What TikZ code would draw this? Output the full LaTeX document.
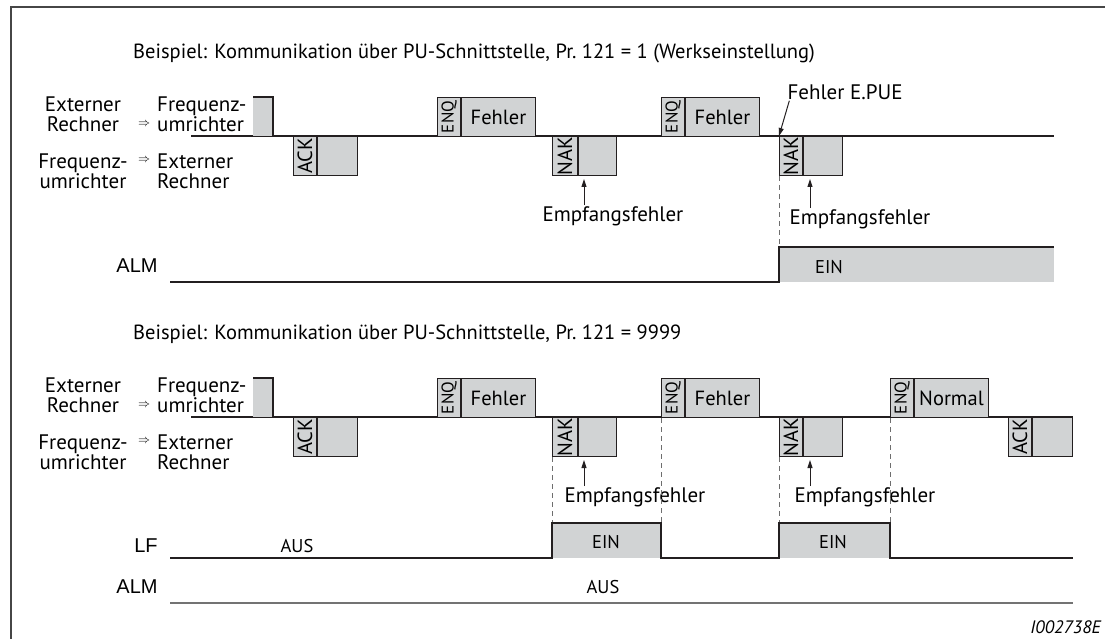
\documentclass[tikz,border=0pt]{standalone}
\usepackage{fontspec}
\setmainfont{PT Sans}
\newfontfamily\arialfont{Liberation Sans}
\usetikzlibrary{arrows.meta, positioning}
\definecolor{lnDark}{RGB}{35,31,32}
\definecolor{blkFill}{RGB}{209,211,212}
\definecolor{frameGray}{RGB}{70,70,70}
\definecolor{dashGray}{RGB}{110,110,110}
\tikzset{
  sig/.style={draw=lnDark, line width=1.1pt},
  blk/.style={rectangle, draw=lnDark, fill=blkFill, line width=1pt,
    inner sep=0pt, anchor=north west, minimum height=39pt,
    font=\fontsize{20.5}{22}\selectfont},
  tagbox/.style={blk, minimum width=23pt, font=\fontsize{20.5}{22}\selectfont},
  enqbox/.style={tagbox, font=\fontsize{17}{20}\selectfont},
  txt/.style={font=\fontsize{21}{20}\selectfont, inner sep=1pt},
  lvl/.style={font=\fontsize{18.5}{22}\selectfont, inner sep=1pt},
  sglbl/.style={font=\arialfont\fontsize{20}{22}\selectfont, inner sep=0pt},
  ttl/.style={font=\fontsize{20.5}{22}\selectfont, anchor=west, inner sep=0pt},
  dblarr/.style={font=\fontsize{11.5}{12}\selectfont, inner sep=0pt},
  arr/.style={-{Triangle[length=8pt,width=5pt]}, line width=1pt, draw=lnDark},
  dsh/.style={dash pattern=on 5pt off 4pt, draw=dashGray, line width=1pt},
}
\begin{document}
\begin{tikzpicture}[x=1pt, y=-1pt]
\useasboundingbox (0,0) rectangle (1105,639);
\draw[frameGray, line width=1.6pt] (1105,7) -- (11,7) -- (11,639);

% ---- Pr. 121 = 1
\node[ttl] (ttlA) at (133,53)
  {Beispiel: Kommunikation über PU-Schnittstelle, Pr.~121 = 1 (Werkseinstellung)};

\node[txt, align=center] (extA) at (83,114) {Externer\\Rechner};
\node[txt, align=left, anchor=west] (fuA) at (156,114) {Frequenz-\\umrichter};
\node[dblarr] (toA) at (144,124) {$\Rightarrow$};
\node[txt, align=center] (fuB) at (83,171) {Frequenz-\\umrichter};
\node[txt, align=left, anchor=west] (extB) at (156,171) {Externer\\Rechner};
\node[dblarr] (toB) at (144,160) {$\Rightarrow$};

\draw[sig] (191,136) -- (1054,136);
\fill[blkFill] (253,97) rectangle (273,136);
\draw[sig] (253,97) -- (273,97) -- (273,136);

\node[tagbox] (ackA) at (293,136) {\rotatebox{90}{ACK}};
\node[blk, minimum width=40pt] (ackAd) at (ackA.north east) {};
\node[enqbox] (enqA) at (437,97) {\rotatebox{90}{ENQ}};
\node[blk, minimum width=74pt] (fehA) at (enqA.north east) {Fehler};
\node[tagbox, minimum width=25pt] (nakA) at (552,136) {\rotatebox{90}{NAK}};
\node[blk, minimum width=38pt] (nakAd) at (nakA.north east) {};
\node[enqbox] (enqB) at (661,97) {\rotatebox{90}{ENQ}};
\node[blk, minimum width=74pt] (fehB) at (enqB.north east) {Fehler};
\node[tagbox] (nakB) at (779,136) {\rotatebox{90}{NAK}};
\node[blk, minimum width=39pt] (nakBd) at (nakB.north east) {};

\node[txt] (epue) at (845,92) {Fehler E.PUE};
\draw[arr] ([xshift=3pt]epue.south west) -- (nakB.north west);

\node[txt] (efA) at (613,216) {Empfangsfehler};
\coordinate (tipA) at ([xshift=6pt]nakAd.south west);
\draw[arr, shorten >=3pt] (tipA |- efA.north) -- (tipA);
\node[txt] (efB) at (860,219) {Empfangsfehler};
\coordinate (tipB) at ([xshift=7pt]nakBd.south west);
\draw[arr, shorten >=3pt] (tipB |- efB.north) -- (tipB);

\coordinate (almHi) at (779,247);
\draw[dsh] (nakB.south west) -- (almHi);
\fill[blkFill] (almHi) rectangle (1054,282);
\draw[sig] (170,282) -- (779,282) -- (almHi) -- (1054,247);
\node[sglbl] (almA) at (137,266) {ALM};
\node[lvl] (einA) at (829,267) {EIN};

% ---- Pr. 121 = 9999
\node[ttl] (ttlB) at (133,334)
  {Beispiel: Kommunikation über PU-Schnittstelle, Pr.~121 = 9999};

\node[txt, align=center] (extC) at (83,395) {Externer\\Rechner};
\node[txt, align=left, anchor=west] (fuC) at (156,395) {Frequenz-\\umrichter};
\node[dblarr] (toC) at (144,405) {$\Rightarrow$};
\node[txt, align=center] (fuD) at (83,452) {Frequenz-\\umrichter};
\node[txt, align=left, anchor=west] (extD) at (156,452) {Externer\\Rechner};
\node[dblarr] (toD) at (144,441) {$\Rightarrow$};

\draw[sig] (191,417) -- (1073,417);
\fill[blkFill] (253,378) rectangle (273,417);
\draw[sig] (253,378) -- (273,378) -- (273,417);

\node[tagbox] (ackC) at (293,417) {\rotatebox{90}{ACK}};
\node[blk, minimum width=40pt] (ackCd) at (ackC.north east) {};
\node[enqbox] (enqC) at (437,378) {\rotatebox{90}{ENQ}};
\node[blk, minimum width=74pt] (fehC) at (enqC.north east) {Fehler};
\node[tagbox, minimum width=25pt] (nakC) at (552,417) {\rotatebox{90}{NAK}};
\node[blk, minimum width=38pt] (nakCd) at (nakC.north east) {};
\node[enqbox] (enqD) at (661,378) {\rotatebox{90}{ENQ}};
\node[blk, minimum width=74pt] (fehD) at (enqD.north east) {Fehler};
\node[tagbox] (nakD) at (779,417) {\rotatebox{90}{NAK}};
\node[blk, minimum width=39pt] (nakDd) at (nakD.north east) {};
\node[enqbox] (enqE) at (890,378) {\rotatebox{90}{ENQ}};
\node[blk, minimum width=74pt] (normE) at (enqE.north east) {Normal};
\node[tagbox] (ackE) at (1008,417) {\rotatebox{90}{ACK}};
\node[blk, minimum width=40pt] (ackEd) at (ackE.north east) {};

\node[txt] (efC) at (635,497) {Empfangsfehler};
\coordinate (tipC) at ([xshift=6pt]nakCd.south west);
\draw[arr, shorten >=3pt] (tipC |- efC.north) -- (tipC);
\node[txt] (efD) at (865,497) {Empfangsfehler};
\coordinate (tipD) at ([xshift=7pt]nakDd.south west);
\draw[arr, shorten >=3pt] (tipD |- efD.north) -- (tipD);

\coordinate (lfA) at (552,523);
\coordinate (lfB) at (661,523);
\coordinate (lfC) at (779,523);
\coordinate (lfD) at (890,523);
\draw[dsh] (nakC.south west) -- (lfA);
\draw[dsh] (enqD.south west) -- (lfB);
\draw[dsh] (nakD.south west) -- (lfC);
\draw[dsh] (enqE.south west) -- (lfD);
\fill[blkFill] (lfA) rectangle (661,558);
\fill[blkFill] (lfC) rectangle (890,558);
\draw[sig] (170,558) -- (552,558) -- (lfA) -- (lfB) -- (661,558) -- (779,558)
  -- (lfC) -- (lfD) -- (890,558) -- (1073,558);
\node[sglbl] (lfL) at (146,546) {LF};
\node[lvl] (ausL) at (297,546) {AUS};
\node[lvl] (einC) at (606,542) {EIN};
\node[lvl] (einD) at (833,542) {EIN};

\draw[sig, draw=gray!90!black] (170,603) -- (1073,603);
\node[sglbl] (almB) at (137,587) {ALM};
\node[lvl] (ausB) at (603,587) {AUS};

\node[txt, font=\itshape\fontsize{18}{18}\selectfont, anchor=east] (figid)
  at (1102,627) {I002738E};
\end{tikzpicture}
\end{document}
